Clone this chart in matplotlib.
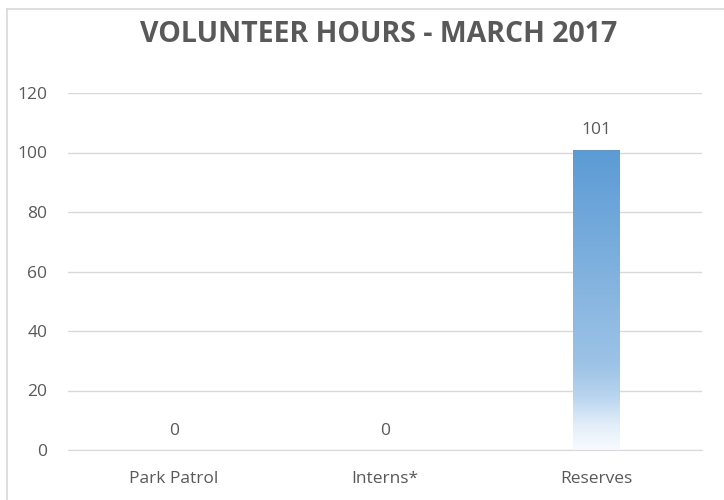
import numpy as np
import matplotlib
matplotlib.use("Agg")
import matplotlib.pyplot as plt
from matplotlib.colors import LinearSegmentedColormap
from matplotlib.lines import Line2D

# datos del grafico
categorias = ["Park Patrol", "Interns*", "Reserves"]
horas = [0, 0, 101]
yticks = [0, 20, 40, 60, 80, 100, 120]

gris = "#595959"
plt.rcParams['font.family'] = ['Open Sans', 'DejaVu Sans']

fig = plt.figure(figsize=(7.24, 5.0), dpi=100)
ax = fig.add_axes([0.094, 0.10, 0.876, 0.714])

x = np.arange(len(categorias))
barras = ax.bar(x, horas, width=0.22, color="none", edgecolor="none", zorder=3)

# degradado azul -> blanco (arriba azul)
cmap = LinearSegmentedColormap.from_list(
    "grad", [(0.0, "#F8FBFE"), (0.08, "#E3EEF9"), (0.18, "#B8D4EF"),
             (0.28, "#9DC3E6"), (1.0, "#5B9BD5")])
grad = np.linspace(0, 1, 256).reshape(-1, 1)
for b, v in zip(barras, horas):
    if v <= 0:
        continue
    x0 = b.get_x()
    im = ax.imshow(grad, cmap=cmap, origin="lower", aspect="auto",
                   extent=(x0, x0 + b.get_width(), 0, v), zorder=3)
    im.set_clip_path(b)

for xi, v in zip(x, horas):
    ax.annotate(str(v), (xi, v), xytext=(0, 8), textcoords="offset points",
                ha="center", va="bottom", fontsize=12.5, color=gris)

ax.set_xlim(-0.5, 2.5)
ax.set_ylim(0, 120)
ax.set_yticks(yticks)
ax.set_xticks(x)
ax.set_xticklabels(categorias)
ax.tick_params(axis="both", length=0, labelsize=12.5, colors=gris)
ax.tick_params(axis="x", pad=15)
ax.tick_params(axis="y", pad=15)
for lab in ax.get_yticklabels():
    lab.set_horizontalalignment("right")
ax.grid(axis="y", color="#D9D9D9", linewidth=1, zorder=0)
for s in ["top", "right", "left"]:
    ax.spines[s].set_visible(False)
ax.spines["bottom"].set_color("#D9D9D9")
ax.spines["bottom"].set_zorder(4)

fig.text(0.523, 0.932, "VOLUNTEER HOURS - MARCH 2017", ha="center", va="center",
         fontsize=20.5, fontweight="bold", color=gris)

# marco del grafico
fig.add_artist(Line2D([7/724, 7/724], [0, 1 - 9/500], color="#D9D9D9", lw=1.2))
fig.add_artist(Line2D([7/724, 1], [1 - 9/500, 1 - 9/500], color="#D9D9D9", lw=1.2))

plt.savefig("out.png", dpi=100)
